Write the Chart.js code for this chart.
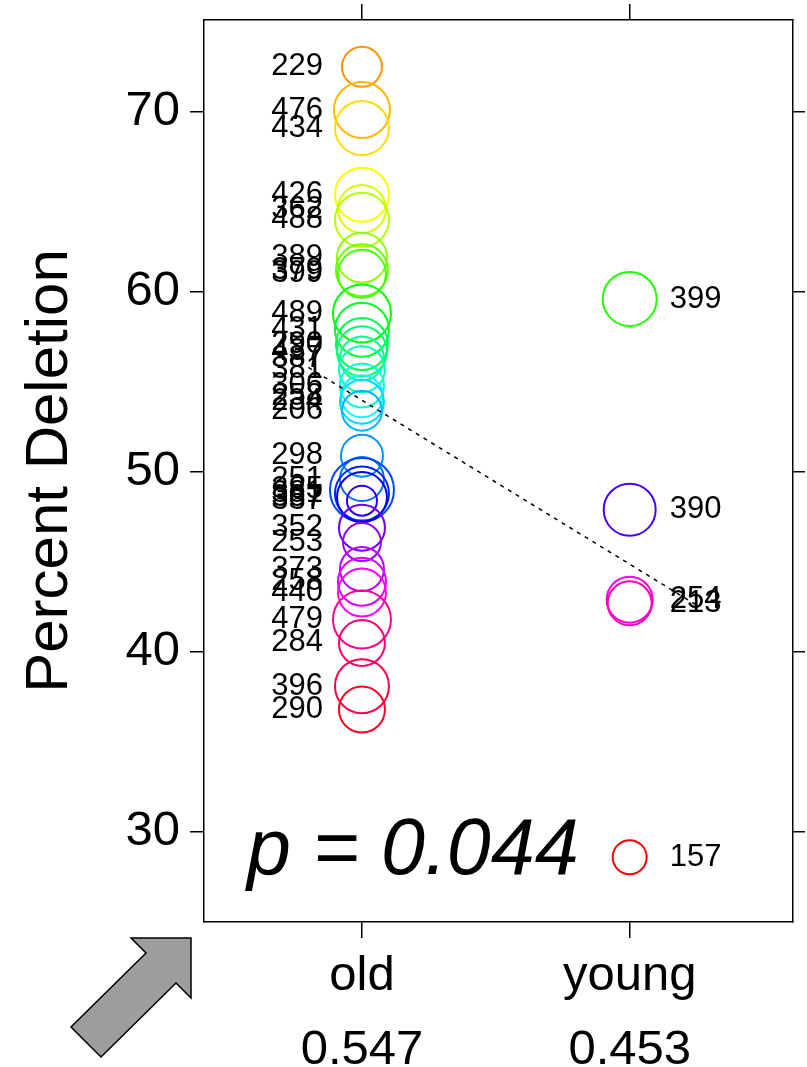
<!DOCTYPE html>
<html>
<head>
<meta charset="utf-8">
<script src="https://cdn.jsdelivr.net/npm/chart.js@4"></script>
<style>
  html, body { margin: 0; padding: 0; background: #fff; }
</style>
</head>
<body>
<canvas id="deletionChart" width="807" height="1067"></canvas>
<script>
// group names and their shares (second line under each group)
const groups = ['old', 'young'];
const groupShares = ['0.547', '0.453'];

// old group: sample ids, percent deletion, circle size
const oldIds = ['229', '476', '434', '426', '362', '488', '389', '379', '399', '489', '431', '290',
    '437', '387', '381', '306', '258', '234', '206', '298', '251', '385', '381', '387', '337',
    '352', '253', '373', '258', '440', '479', '284', '396', '290'];
const oldValues = [72.5, 70.1, 69.1, 65.4, 64.6, 64.0, 61.9, 61.2, 61.0, 58.8, 57.9, 57.1,
    56.7, 56.3, 55.7, 54.8, 54.2, 53.9, 53.4, 50.9, 49.6, 49.0, 48.8, 48.6, 48.4,
    46.9, 46.1, 44.6, 43.9, 43.3, 41.8, 40.5, 38.1, 36.8];
const oldSizes = [20, 28, 27, 27, 24, 27, 25, 26, 24, 29, 27, 26,
    25, 22, 23, 22, 21, 22, 20, 21, 22, 32, 27, 25, 15,
    23, 19, 22, 24, 24, 29, 23, 27, 23];

// young group
const youngIds = ['399', '390', '254', '213', '157'];
const youngValues = [59.6, 47.9, 42.9, 42.7, 28.6];
const youngSizes = [27, 26, 23, 22, 17];

const yTicks = [30, 40, 50, 60, 70];

// dotted trend segment
const trendX = [0.8, 2.25];
const trendY = [55.8, 42.6];

const pLabel = 'p = 0.044';

const FONT = '"Liberation Sans", Arial, Helvetica, sans-serif';

// colour by rank of value: orange at the top, round the wheel to red at the bottom
const allValues = oldValues.concat(youngValues).slice().sort((a, b) => b - a);
const colorFor = (v) => {
    const rank = allValues.indexOf(v);
    const hue = (35 + rank / (allValues.length - 1) * 325) % 360;
    return `hsl(${hue}, 100%, 50%)`;
};

// no label padding, so the plot box sits exactly where we want it
const noPadding = (s) => {
    s.paddingTop = 0;
    s.paddingBottom = 0;
    s.paddingLeft = 0;
    s.paddingRight = 0;
};

// top / right axes: tick marks only, no labels
const edgeAxis = (position, size, tickLen) => ({
    type: 'linear',
    position: position,
    min: position === 'top' ? 0.41 : 25,
    max: position === 'top' ? 2.61 : 75.1,
    afterBuildTicks: (s) => {
        s.ticks = position === 'top'
            ? groups.map((g, i) => ({ value: i + 1 }))
            : yTicks.map(v => ({ value: v }));
    },
    afterFit: (s) => {
        if (position === 'top') s.height = size; else s.width = size;
        noPadding(s);
    },
    ticks: { callback: () => '', padding: 0 },
    grid: { drawOnChartArea: false, tickLength: tickLen, color: '#000', lineWidth: 1.5 },
    border: { color: '#000', width: 1.5 }
});

const labelPlugin = {
    id: 'labels',
    afterDatasetsDraw(chart) {
        const ctx = chart.ctx;
        const xs = chart.scales.x;
        const ys = chart.scales.y;
        ctx.save();
        ctx.fillStyle = '#000';
        ctx.font = `31px ${FONT}`;
        ctx.textBaseline = 'middle';

        ctx.textAlign = 'right';
        oldValues.forEach((v, i) => {
            ctx.fillText(oldIds[i], xs.getPixelForValue(1) - 39, ys.getPixelForValue(v));
        });
        ctx.textAlign = 'left';
        youngValues.forEach((v, i) => {
            ctx.fillText(youngIds[i], xs.getPixelForValue(2) + 40, ys.getPixelForValue(v));
        });

        // p value
        ctx.font = `italic 79px ${FONT}`;
        ctx.textBaseline = 'alphabetic';
        ctx.fillText(pLabel, 247, 874);

        // grey arrow in the lower left corner
        const pts = [[131, 938], [191, 938], [191, 998], [176, 983], [101, 1057], [71, 1027], [146, 953]];
        ctx.beginPath();
        pts.forEach((p, i) => i ? ctx.lineTo(p[0], p[1]) : ctx.moveTo(p[0], p[1]));
        ctx.closePath();
        ctx.fillStyle = '#9d9d9d';
        ctx.fill();
        ctx.lineWidth = 1.5;
        ctx.strokeStyle = '#000';
        ctx.stroke();
        ctx.restore();
    }
};

new Chart(document.getElementById('deletionChart'), {
    type: 'bubble',
    data: {
        datasets: [
            {
                type: 'line',
                data: trendX.map((x, i) => ({ x: x, y: trendY[i] })),
                borderColor: '#000',
                borderWidth: 1.5,
                borderDash: [4, 5],
                pointRadius: 0,
                fill: false,
                order: 0
            },
            {
                data: oldValues.map((v, i) => ({ x: 1, y: v, r: oldSizes[i] })),
                backgroundColor: 'rgba(0,0,0,0)',
                borderColor: oldValues.map(colorFor),
                borderWidth: 2,
                order: 1
            },
            {
                data: youngValues.map((v, i) => ({ x: 2, y: v, r: youngSizes[i] })),
                backgroundColor: 'rgba(0,0,0,0)',
                borderColor: youngValues.map(colorFor),
                borderWidth: 2,
                order: 1
            }
        ]
    },
    options: {
        responsive: false,
        animation: false,
        events: [],
        layout: { padding: 0, autoPadding: false },
        plugins: {
            legend: { display: false },
            tooltip: { enabled: false }
        },
        scales: {
            x: {
                type: 'linear',
                position: 'bottom',
                min: 0.41,
                max: 2.61,
                afterBuildTicks: (s) => { s.ticks = groups.map((g, i) => ({ value: i + 1 })); },
                afterFit: (s) => { s.height = 145; noPadding(s); },
                ticks: {
                    callback: (v) => [groups[v - 1], groupShares[v - 1]],
                    font: { family: FONT, size: 49, lineHeight: 1.5 },
                    color: '#000',
                    padding: 2,
                    maxRotation: 0,
                    autoSkip: false
                },
                grid: { drawOnChartArea: false, tickLength: 16, color: '#000', lineWidth: 1.5 },
                border: { color: '#000', width: 1.5 }
            },
            y: {
                type: 'linear',
                position: 'left',
                min: 25,
                max: 75.1,
                afterBuildTicks: (s) => { s.ticks = yTicks.map(v => ({ value: v })); },
                afterFit: (s) => { s.width = 204; noPadding(s); },
                ticks: {
                    font: { family: FONT, size: 49 },
                    color: '#000',
                    padding: 10
                },
                title: {
                    display: true,
                    text: 'Percent Deletion',
                    font: { family: FONT, size: 60 },
                    color: '#000',
                    padding: { top: 14, bottom: 0 }
                },
                grid: { drawOnChartArea: false, tickLength: 14, color: '#000', lineWidth: 1.5 },
                border: { color: '#000', width: 1.5 }
            },
            xTop: edgeAxis('top', 20, 16),
            yRight: edgeAxis('right', 14, 12)
        }
    },
    plugins: [labelPlugin]
});
</script>
</body>
</html>
